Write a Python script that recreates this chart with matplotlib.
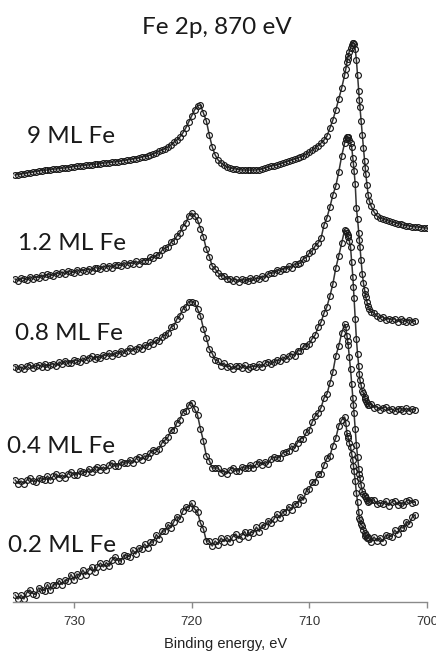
"""
Fe 2p XPS spectra (hv = 870 eV) for increasing Fe coverage, stacked.
Open circles = measured points, thin line through them.
"""
import numpy as np
import matplotlib
matplotlib.use("Agg")  # headless
import matplotlib.pyplot as plt

W_PX, H_PX, DPI = 436, 651, 100

LABEL_FONT = ["Lato", "DejaVu Sans"]
AXIS_FONT = ["Liberation Sans", "DejaVu Sans"]
INK = "#1a1a1a"
AXIS_GREY = "#8a8a8a"

# ----------------------- data -----------------------

# binding energy grid, eV, 0.25 eV steps from 735 down to 700
ENERGY = np.arange(735.0, 699.99, -0.25)

# extra points on the steep Fe 2p3/2 edge, eV
FINE_ENERGY = [706.9, 706.8, 706.7, 706.6, 706.4, 706.3, 706.2, 706.1,
               705.9, 705.8, 705.7, 705.6, 705.4, 705.3, 705.2, 705.1, 704.9]

LABELS = ["9 ML Fe", "1.2 ML Fe", "0.8 ML Fe", "0.4 ML Fe", "0.2 ML Fe"]
OFFSETS = [427, 322, 234, 120, 4]   # vertical stacking, arb. units

# intensities (arb. units), one value per ENERGY point
FE_9ML = [
    0, 0.5, 1, 1.5, 2, 2.5, 3, 3.5, 4, 4.5,
    5, 5, 5.5, 6, 6, 6.5, 7, 7, 7.5, 8,
    8.5, 9, 9, 9.5, 10, 10, 10.5, 11, 11, 11.5,
    12, 12, 12.5, 13, 13, 13.5, 14, 14.5, 15, 15.5,
    16, 16.5, 17, 18, 18.5, 19, 20, 21, 22.5, 24,
    25, 26.5, 28, 30, 33, 35, 38, 42, 47, 53,
    59, 65, 69, 70, 62, 54, 40, 28, 20, 15,
    12, 10, 8, 7, 6.5, 6, 5.5, 5, 5, 5,
    5, 5, 5, 5.5, 6, 7, 8, 9, 9.5, 10,
    11, 12, 13, 14, 15, 16, 17, 18, 19.5, 21,
    23, 25, 27, 29.5, 32, 35, 39, 47, 55, 65,
    76, 87, 100, 116, 127, 132, 115, 75, 40, 7,
    -20, -31, -37, -41, -43, -44, -45, -46, -47, -47.5,
    -48.5, -49, -50, -50.5, -51, -51.5, -52, -52, -52.5, -53,
    -53,
]

FE_1P2ML = [
    1, -0.5, 2, 1.5, 0, 3.5, 1.5, 3.5, 2.5, 5,
    3, 6, 5, 4.5, 7.5, 6, 8, 6, 9, 8,
    7.5, 10.5, 8.5, 10.5, 9, 11.5, 9.5, 12.5, 12, 11,
    14, 12.5, 14.5, 12.5, 15.5, 15, 14.5, 17.5, 15.5, 17.5,
    16.5, 19, 16.5, 19.5, 19.5, 19.5, 23, 22, 25, 25,
    30, 32, 33, 38, 39.5, 44, 47, 53.5, 57, 64,
    67, 64, 60, 51.5, 43, 31, 23.5, 14, 11, 7,
    4, 4.5, 1, 1.5, -0.5, 1, -1.5, 1, 0, -1,
    2, 0, 2, 1, 4, 2.5, 6.5, 7, 7, 10.5,
    9, 11.5, 11, 14, 12.5, 16, 16, 17, 21.5, 22.5,
    27, 29, 34, 37, 42, 55, 62.5, 73, 85, 94,
    108, 124, 137, 143, 137, 116, 72, 40, 6, -14,
    -26, -32, -33, -36, -38, -36.5, -39.5, -38.5, -40, -38.5,
    -41.5, -39, -40.5, -41.5, -39.5, -42, -40.5,
]

FE_0P8ML = [
    1.5, -1, 1, -1, 2, 3.5, 0, 2, 3, 1.5,
    4.5, 1.5, 3.5, 4.5, 2, 6, 4, 7.5, 5.5, 5,
    8, 7.5, 6, 10, 8, 10.5, 12, 9, 11.5, 10,
    13.5, 12, 15, 12, 15.5, 14, 17.5, 15, 17.5, 20,
    17.5, 19, 21.5, 19, 23, 22, 26, 24.5, 28, 27,
    31.5, 33, 35, 41, 42.5, 49, 52.5, 59, 61, 66.5,
    66, 65, 59, 52, 39.5, 30, 19, 14.5, 8, 7,
    2.5, 5, 1, 2, -1, 2, 2.5, 0, 3, -0.5,
    1, 2, 1, 4, 1, 5, 6.5, 4, 6, 8,
    7, 11, 9, 12, 14, 12.5, 17.5, 17, 22, 22,
    24, 29.5, 33, 41, 46, 55, 61.5, 72, 84, 100,
    112, 125, 138, 133, 121, 81, 29, -6, -23, -31,
    -37, -36, -39.5, -38.5, -41.5, -39.5, -39, -42, -41, -43,
    -41, -40.5, -43, -40, -43, -41, -42,
]

FE_0P4ML = [
    2, -1.5, 1, -1.5, 2, 4, 1, 0, 4, 3,
    2.5, 6, 2, 6, 8, 4.5, 7, 4.5, 8.5, 10,
    7.5, 7, 11, 10, 9.5, 13.5, 10, 13.5, 15, 12.5,
    15, 12.5, 17, 19, 16, 16, 20, 19, 19, 22.5,
    19, 23, 25.5, 22.5, 26, 25, 29.5, 32.5, 31.5, 33.5,
    39.5, 42, 45, 52, 52.5, 59.5, 62.5, 70.5, 71, 77,
    79.5, 73, 67, 53, 41, 26, 21.5, 14, 14, 14,
    9.5, 11.5, 8.5, 12.5, 14.5, 11.5, 11, 15, 14, 14,
    17.5, 14, 18, 20.5, 17.5, 20.5, 18.5, 23, 25, 24,
    24.5, 29.5, 30, 31, 36, 34, 39.5, 43.5, 43.5, 50,
    52, 60, 66, 69, 74.5, 84, 88, 99, 110, 126,
    136, 149, 158, 141, 113, 77, 37, 8, -9, -13.5,
    -20, -18, -18, -22, -21, -22, -19, -23.5, -20, -18.5,
    -22.5, -20.5, -22.5, -19, -18, -20.5, -20,
]

FE_0P2ML = [
    3, -1, 3, -1, 5.5, 8, 4.5, 3.5, 10, 8.5,
    7.5, 13.5, 8, 13.5, 13, 17.5, 13.5, 18, 17, 23.5,
    18, 24, 22.5, 28, 23.5, 27.5, 31, 26, 31.5, 35,
    31, 35.5, 32, 38, 41, 37.5, 37, 43, 42, 41.5,
    48, 44, 50, 49, 54, 50.5, 56, 56, 63.5, 59.5,
    67, 67, 73.5, 70.5, 76.5, 81.5, 79, 87, 91, 90.5,
    95, 89, 86, 75, 69, 57, 57, 52, 57, 53.5,
    60, 56.5, 60.5, 56, 61.5, 64, 59.5, 62.5, 66.5, 61.5,
    66, 65, 71, 66.5, 73, 72, 77.5, 75, 79, 84,
    80, 86.5, 86.5, 91.5, 88.5, 94.5, 94.5, 101.5, 98, 107.5,
    109, 116, 116, 124.5, 124.5, 133, 140, 142, 152.5, 160,
    172, 178, 181, 162, 151, 132, 105, 80, 72, 62,
    61, 56, 61, 57, 60.5, 56.5, 63, 62, 61.5, 68,
    64.5, 70.5, 70, 76.5, 74, 81, 83,
]

# intensities at FINE_ENERGY
FINE_9ML = [106, 113, 119, 123.5, 130, 132, 131, 126,
            100, 84, 68, 54, 27, 14, 1, -10, -26]
FINE_1P2ML = [141, 143.5, 143, 140, 133, 122, 109, 96,
              61, 47, 33, 20, -3, -10, -17, -22, -29]
FINE_0P8ML = [137.5, 135, 131, 127, 106, 91, 70, 49,
              14, 2, -12, -17, -25, -29, -33, -35, -36.5]
FINE_0P4ML = [155, 146, 137, 125, 98, 84, 69, 53,
              25, 13, 4, -3, -12, -14, -16, -17.5, -19]
FINE_0P2ML = [175, 165, 160, 155, 144, 138, 127, 117,
              96, 86, 78, 74, 68, 65, 63, 60, 59]

SPECTRA = [FE_9ML, FE_1P2ML, FE_0P8ML, FE_0P4ML, FE_0P2ML]
FINE = [FINE_9ML, FINE_1P2ML, FINE_0P8ML, FINE_0P4ML, FINE_0P2ML]

X_TICKS = [730, 720, 710, 700]

# label anchors (energy, baseline height) in axis data units
LABEL_POS = [(734.0, 459), (734.76, 352), (735.0, 262), (735.7, 149), (735.6, 50)]

# ----------------------- figure -----------------------

fig = plt.figure(figsize=(W_PX / DPI, H_PX / DPI), dpi=DPI)
fig.patch.set_facecolor("white")
ax = fig.add_axes([13 / W_PX, 49 / H_PX, 414 / W_PX, 602 / H_PX])
ax.set_facecolor("none")

for vals, fine, off in zip(SPECTRA, FINE, OFFSETS):
    e = np.concatenate([ENERGY[:len(vals)], FINE_ENERGY])
    y = np.concatenate([vals, fine]).astype(float) + off
    order = np.argsort(-e)
    e, y = e[order], y[order]
    ax.plot(e, y, color="#333333", lw=1.1, zorder=1)
    ax.plot(e, y, ls="none", marker="o", ms=4.2, mfc="none",
            mec=INK, mew=0.85, zorder=2)

for text, (ex, yy) in zip(LABELS, LABEL_POS):
    ax.text(ex, yy, text, family=LABEL_FONT, fontsize=17.5, color=INK,
            ha="left", va="baseline", clip_on=False)

ax.set_xlim(735.18, 700.0)
ax.set_ylim(0, 602)
for side in ("left", "top", "right"):
    ax.spines[side].set_visible(False)
ax.spines["bottom"].set_color(AXIS_GREY)
ax.spines["bottom"].set_linewidth(1.0)
ax.set_yticks([])
ax.set_xticks(X_TICKS)
ax.set_xticklabels([str(t) for t in X_TICKS], family=AXIS_FONT)
ax.tick_params(axis="x", direction="out", length=4, width=1.0,
               color=AXIS_GREY, labelsize=9.5, labelcolor="#333333", pad=6)

fig.text(217 / W_PX, 1 - 34 / H_PX, "Fe 2p, 870 eV", family=LABEL_FONT,
         fontsize=17.5, color=INK, ha="center", va="baseline")
fig.text(226 / W_PX, 1 - 648 / H_PX, "Binding energy, eV", family=AXIS_FONT,
         fontsize=10.5, color="#222222", ha="center", va="baseline")

fig.savefig("out.png", dpi=DPI, facecolor="white")
